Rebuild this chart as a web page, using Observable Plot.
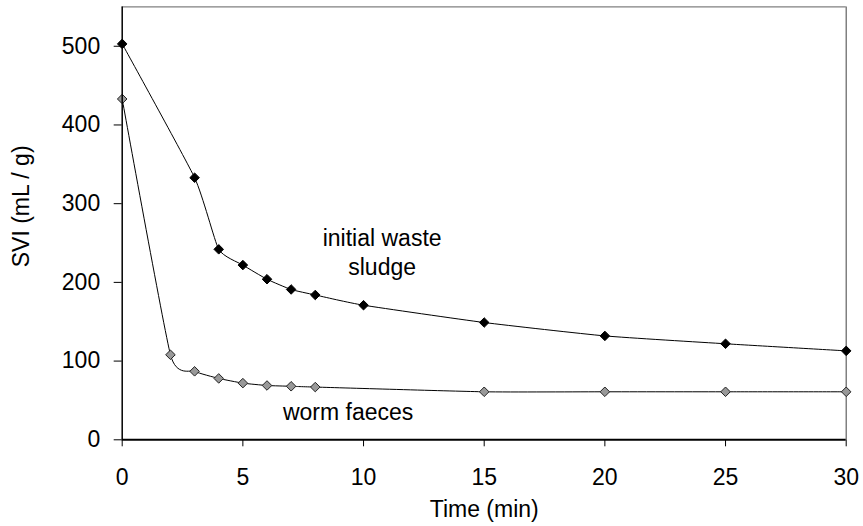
<!DOCTYPE html>
<html>
<head>
<meta charset="utf-8">
<script src="https://cdn.jsdelivr.net/npm/d3@7"></script>
<script src="https://cdn.jsdelivr.net/npm/@observablehq/plot@0.6"></script>
<style>
  html, body { margin: 0; padding: 0; background: #fff; }
  #chart svg { display: block; }
</style>
</head>
<body>
<div id="chart"></div>
<script>
// Data
const sludgeTime = [0, 3, 4, 5, 6, 7, 8, 10, 15, 20, 25, 30];
const sludgeSVI  = [503, 333, 242, 222, 204, 191, 184, 171, 149, 132, 122, 113];
const faecesTime = [0, 2, 3, 4, 5, 6, 7, 8, 15, 20, 25, 30];
const faecesSVI  = [433, 108, 87, 78, 72, 69, 68, 67, 61, 61, 61, 61];
const xTicks = [0, 5, 10, 15, 20, 25, 30];
const yTicks = [0, 100, 200, 300, 400, 500];
const seriesLabels = ["initial waste\nsludge", "worm faeces"];
const labelTime = [10.77, 9.36];
const labelSVI = [240, 37];

const sludge = sludgeTime.map((t, i) => ({t, v: sludgeSVI[i]}));
const faeces = faecesTime.map((t, i) => ({t, v: faecesSVI[i]}));
const notes = seriesLabels.map((s, i) => ({s, t: labelTime[i], v: labelSVI[i]}));

const font = "'Liberation Sans', Arial, sans-serif";
const fs = 23;

const chart = Plot.plot({
  width: 863,
  height: 526,
  marginLeft: 121.7,
  marginRight: 17.3,
  marginTop: 6.4,
  marginBottom: 86.7,
  style: {fontFamily: font, fontSize: fs + "px", color: "#000", background: "#fff"},
  x: {domain: [0, 30]},
  y: {domain: [0, 550]},
  marks: [
    // frame: top and right in gray
    Plot.ruleY([550], {stroke: "#808080", strokeWidth: 1.2}),
    Plot.ruleX([30], {stroke: "#606060", strokeWidth: 1.2}),
    Plot.axisX({ticks: xTicks, tickSize: 7, tickPadding: 22, fontSize: fs, label: null, stroke: "#000"}),
    Plot.axisY({ticks: yTicks, tickSize: 8, tickPadding: 14, fontSize: fs, label: null, stroke: "#000"}),
    Plot.lineY(sludge, {x: "t", y: "v", stroke: "#000", strokeWidth: 1, curve: "cardinal", tension: 0.5}),
    Plot.lineY(faeces, {x: "t", y: "v", stroke: "#000", strokeWidth: 1, curve: "cardinal", tension: 0.5}),
    Plot.dot(sludge, {x: "t", y: "v", symbol: "diamond2", r: 4.3, fill: "#000", stroke: "#000", strokeWidth: 1}),
    Plot.dot(faeces, {x: "t", y: "v", symbol: "diamond2", r: 4.3, fill: "#999", stroke: "#222", strokeWidth: 1}),
    Plot.ruleX([0], {stroke: "#000", strokeWidth: 1.5}),
    Plot.ruleY([0], {stroke: "#000", strokeWidth: 2}),
    Plot.text(notes, {x: "t", y: "v", text: "s", fontSize: fs, lineHeight: 1.26, textAnchor: "middle", lineAnchor: "middle", fill: "#000"}),
    Plot.text(["Time (min)"], {frameAnchor: "bottom", dy: 70, lineAnchor: "middle", fontSize: fs, fill: "#000"}),
    Plot.text(["SVI (mL / g)"], {frameAnchor: "left", dx: -101, dy: -17, rotate: -90, textAnchor: "middle", lineAnchor: "middle", fontSize: fs, fill: "#000"})
  ]
});
document.getElementById("chart").appendChild(chart);
</script>
</body>
</html>
